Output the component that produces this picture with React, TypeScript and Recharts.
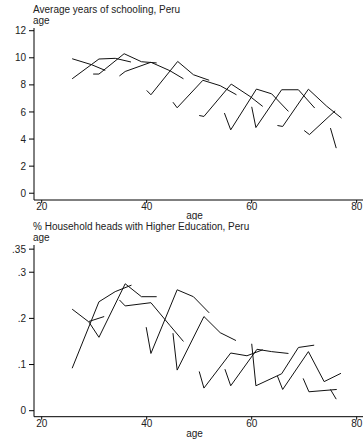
import { LineChart, Line, XAxis, YAxis } from 'recharts';

// age ticks shared by both panels
const ageTicks = [20, 40, 60, 80];
const schoolTicks = [0, 2, 4, 6, 8, 10, 12];
const higherTicks = [0, 0.1, 0.2, 0.3, 0.35];

// one row per cohort line: mean age at each survey
const schoolAges = [
  [25.8, 29.5, 32.1],
  [25.8, 30.9, 34.0, 37.0],
  [29.8, 30.9, 35.7, 39.0, 41.9],
  [34.8, 35.9, 40.8, 44.4, 47.0],
  [40.0, 40.8, 45.9, 48.9, 51.9],
  [45.0, 45.8, 50.7, 54.0, 57.1],
  [50.0, 50.9, 56.1, 59.7, 62.1],
  [54.8, 56.0, 60.9, 63.8, 67.0],
  [60.0, 60.8, 65.7, 68.9, 72.0],
  [64.9, 65.9, 70.8, 74.3, 77.1],
  [70.0, 71.0, 75.9],
  [75.0, 76.1],
];

const schoolYears = [
  [9.93, 9.49, 9.07],
  [8.45, 9.91, 9.96, 9.69],
  [8.8, 8.8, 10.3, 9.71, 9.62],
  [8.66, 8.99, 9.67, 9.05, 8.45],
  [7.59, 7.27, 9.73, 8.75, 8.34],
  [6.72, 6.31, 8.34, 7.94, 7.27],
  [5.74, 5.67, 8.06, 7.14, 6.41],
  [5.92, 4.68, 7.69, 7.34, 6.04],
  [6.38, 4.85, 7.64, 7.64, 6.29],
  [5.0, 4.93, 7.68, 6.42, 5.55],
  [4.63, 4.33, 6.09],
  [4.81, 3.33],
];

const higherAges = [
  [25.8, 28.9, 31.9],
  [25.8, 30.9, 34.0, 37.1],
  [29.0, 30.9, 35.9, 39.0, 41.9],
  [34.8, 35.9, 40.8, 44.4, 47.0],
  [39.9, 40.8, 45.8, 48.9, 51.9],
  [45.0, 45.8, 50.9, 54.0, 57.0],
  [50.0, 50.9, 56.0, 59.1, 62.1],
  [54.9, 56.0, 61.0, 63.8, 67.0],
  [60.0, 60.8, 65.7, 68.9, 71.9],
  [64.9, 65.9, 70.8, 73.8, 77.0],
  [69.8, 70.9, 76.2],
  [75.0, 76.1],
];

const higherShare = [
  [0.22, 0.193, 0.204],
  [0.092, 0.236, 0.258, 0.272],
  [0.192, 0.159, 0.275, 0.247, 0.247],
  [0.24, 0.227, 0.234, 0.185, 0.15],
  [0.181, 0.124, 0.262, 0.247, 0.212],
  [0.168, 0.088, 0.204, 0.169, 0.152],
  [0.085, 0.049, 0.125, 0.119, 0.132],
  [0.09, 0.054, 0.133, 0.128, 0.124],
  [0.145, 0.054, 0.08, 0.137, 0.142],
  [0.075, 0.046, 0.128, 0.063, 0.081],
  [0.07, 0.041, 0.046],
  [0.046, 0.025],
];

const textFont = 'Liberation Sans, Arial, sans-serif';
const tickStyle = { fontFamily: textFont, fontSize: 10, fill: '#222' };
const headStyle = { position: 'absolute' as const, left: 33, fontFamily: textFont, fontSize: 10, lineHeight: '11px', color: '#222', whiteSpace: 'nowrap' as const };

function Panel({ top, title, ages, values, ticks, yDomain, fmt, plotTop, titleTop, xHeight, labelOffset }: any) {
  const series = ages.map((row: number[], i: number) =>
    row.map((age, j) => ({ age, v: values[i][j] }))
  );
  return (
    <div style={{ position: 'absolute', left: 0, top, width: 363, height: 220 }}>
      <div style={{ ...headStyle, top: titleTop }}>{title}</div>
      <div style={{ ...headStyle, top: titleTop + 11 }}>age</div>
      <LineChart width={363} height={220} margin={{ top: plotTop, right: 0, bottom: 0, left: 0 }}>
        <XAxis
          type="number"
          dataKey="age"
          domain={[18.53, 81.2]}
          ticks={ageTicks}
          allowDuplicatedCategory={false}
          height={xHeight}
          tickSize={3}
          tickMargin={0}
          tick={tickStyle}
          stroke="#000"
          label={{ value: 'age', position: 'insideBottom', offset: labelOffset, dx: -4, style: tickStyle }}
        />
        <YAxis
          type="number"
          domain={yDomain}
          ticks={ticks}
          width={34}
          tickSize={5}
          tickMargin={3}
          tick={tickStyle}
          tickFormatter={fmt}
          stroke="#000"
          allowDataOverflow
        />
        {series.map((d: any, i: number) => (
          <Line
            key={i}
            data={d}
            dataKey="v"
            type="linear"
            stroke="#111"
            strokeWidth={1}
            dot={false}
            isAnimationActive={false}
          />
        ))}
      </LineChart>
    </div>
  );
}

export default function App() {
  return (
    <div style={{ position: 'absolute', left: 0, top: 0, width: 363, height: 440, background: '#fff' }}>
      <Panel
        top={0}
        title="Average years of schooling, Peru"
        ages={schoolAges}
        values={schoolYears}
        ticks={schoolTicks}
        yDomain={[-0.5, 12.2]}
        fmt={(v: number) => String(v)}
        plotTop={28}
        titleTop={4}
        xHeight={20}
        labelOffset={1}
      />
      <Panel
        top={220}
        title="% Household heads with Higher Education, Peru"
        ages={higherAges}
        values={higherShare}
        ticks={higherTicks}
        yDomain={[-0.013, 0.359]}
        fmt={(v: number) => (v === 0 ? '0' : String(v).replace(/^0/, ''))}
        plotTop={25}
        titleTop={1}
        xHeight={23.3}
        labelOffset={3}
      />
    </div>
  );
}
